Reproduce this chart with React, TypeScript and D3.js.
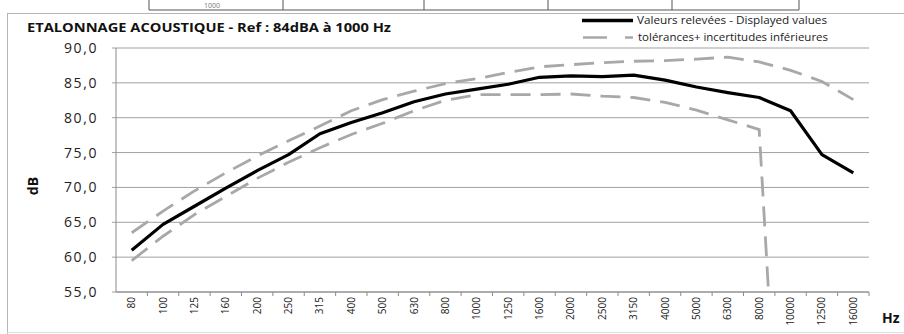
import React from "react";
import * as d3 from "d3";

const categories = ["80","100","125","160","200","250","315","400","500","630","800","1000","1250","1600","2000","2500","3150","4000","5000","6300","8000","10000","12500","16000"];
const measured = [61.0, 64.7, 67.3, 69.9, 72.4, 74.7, 77.7, 79.3, 80.7, 82.3, 83.4, 84.1, 84.8, 85.8, 86.0, 85.9, 86.1, 85.4, 84.4, 83.6, 82.9, 81.0, 74.7, 72.1];
const upperTol = [63.5, 66.6, 69.5, 72.1, 74.5, 76.7, 78.8, 81.0, 82.6, 83.8, 84.9, 85.6, 86.5, 87.3, 87.6, 87.9, 88.1, 88.2, 88.4, 88.7, 88.0, 86.8, 85.2, 82.6];
const lowerTol = [59.5, 63.0, 66.1, 68.7, 71.3, 73.6, 75.7, 77.6, 79.2, 81.0, 82.5, 83.3, 83.3, 83.3, 83.4, 83.1, 82.9, 82.2, 81.1, 79.7, 78.3, 0, 0, 0];
const yTicks = [55, 60, 65, 70, 75, 80, 85, 90];
const title = "ETALONNAGE  ACOUSTIQUE - Ref : 84dBA à 1000 Hz";
const legendLabels = ["Valeurs relevées - Displayed values", "tolérances+ incertitudes inférieures"];
const tableCellText = ["1000"];

const W = 904, H = 334;
const L = 116, R = 869, T = 48, B = 292;

export default function App() {
  const x = d3.scaleBand<string>().domain(categories).range([L, R]).padding(0);
  const cx = (c: string) => (x(c) as number) + x.bandwidth() / 2;
  const y = d3.scaleLinear().domain([55, 90]).range([B, T]);
  const line = d3.line<number>().x((_, i) => cx(categories[i])).y((v) => y(v));
  const fmt = (v: number) => d3.format(".1f")(v).replace(".", ",");
  const gray = "#a8a8a8";
  const font = "'Open Sans', sans-serif";
  const tableX = [149, 283, 424, 548, 672, 799];

  return (
    <svg width={W} height={H} style={{ position: "absolute", left: 0, top: 0, background: "#fff" }} fontFamily={font}>
      <defs>
        <clipPath id="plot">
          <rect x={L} y={T - 10} width={R - L} height={B - T + 10} />
        </clipPath>
      </defs>
      {/* scanned table fragment */}
      <line x1={tableX[0]} x2={tableX[tableX.length - 1]} y1={10} y2={10} stroke="#555" strokeWidth={1} />
      {tableX.map((tx) => (
        <line key={tx} x1={tx} x2={tx} y1={0} y2={10} stroke="#555" strokeWidth={1} />
      ))}
      <text x={212} y={8} fontSize={7} fill="#777" textAnchor="middle">{tableCellText[0]}</text>
      {/* chart frame */}
      <line x1={7} x2={W} y1={13.5} y2={13.5} stroke="#b5b5b5" strokeWidth={1} />
      <line x1={7.5} x2={7.5} y1={13} y2={H} stroke="#b5b5b5" strokeWidth={1} />
      <line x1={7} x2={W} y1={332.5} y2={332.5} stroke="#dddddd" strokeWidth={1} />

      {/* title */}
      <text x={27} y={32} fontSize={13} fontWeight="bold" fill="#111" textLength={364} lengthAdjust="spacingAndGlyphs">{title}</text>

      {/* legend */}
      <line x1={582} x2={633} y1={20.5} y2={20.5} stroke="#000" strokeWidth={3.5} />
      <text x={637} y={24} fontSize={10} fill="#222" textLength={190} lengthAdjust="spacingAndGlyphs">{legendLabels[0]}</text>
      <line x1={583} x2={633} y1={37.5} y2={37.5} stroke={gray} strokeWidth={2.5} strokeDasharray="24,18" />
      <text x={638} y={41} fontSize={10} fill="#222" textLength={190} lengthAdjust="spacingAndGlyphs">{legendLabels[1]}</text>

      {/* gridlines & y axis */}
      {yTicks.map((t) => (
        <g key={t}>
          <line x1={L - 4} x2={R} y1={y(t)} y2={y(t)} stroke="#a0a0a0" strokeWidth={1} />
          <text x={98} y={y(t)} dy="0.36em" textAnchor="end" fontSize={14} letterSpacing={1.6} fill="#222">{fmt(t)}</text>
        </g>
      ))}
      <line x1={L} x2={L} y1={T} y2={B} stroke="#8a8a8a" strokeWidth={1} />
      <line x1={L} x2={R} y1={B} y2={B} stroke="#8a8a8a" strokeWidth={1} />
      {categories.map((c) => (
        <line key={"t" + c} x1={(x(c) as number) + x.bandwidth()} x2={(x(c) as number) + x.bandwidth()} y1={B} y2={B + 4} stroke="#8a8a8a" strokeWidth={1} />
      ))}
      {categories.map((c) => (
        <text key={"l" + c} transform={`translate(${cx(c)},${297}) rotate(-90)`} dy="0.35em" textAnchor="end" fontSize={10} fill="#222">{c}</text>
      ))}

      {/* axis titles */}
      <text transform={`translate(33,186) rotate(-90)`} dy="0.35em" textAnchor="middle" fontSize={14} fontWeight="bold" fill="#111">dB</text>
      <text x={882} y={323} fontSize={14} fontWeight="bold" fill="#111">Hz</text>

      {/* series */}
      <g clipPath="url(#plot)">
        <path d={line(upperTol) || ""} fill="none" stroke={gray} strokeWidth={2.8} strokeDasharray="20,10" />
        <path d={line(lowerTol) || ""} fill="none" stroke={gray} strokeWidth={2.8} strokeDasharray="20,10" />
        <path d={line(measured) || ""} fill="none" stroke="#000" strokeWidth={3.2} strokeLinejoin="round" />
      </g>
    </svg>
  );
}
